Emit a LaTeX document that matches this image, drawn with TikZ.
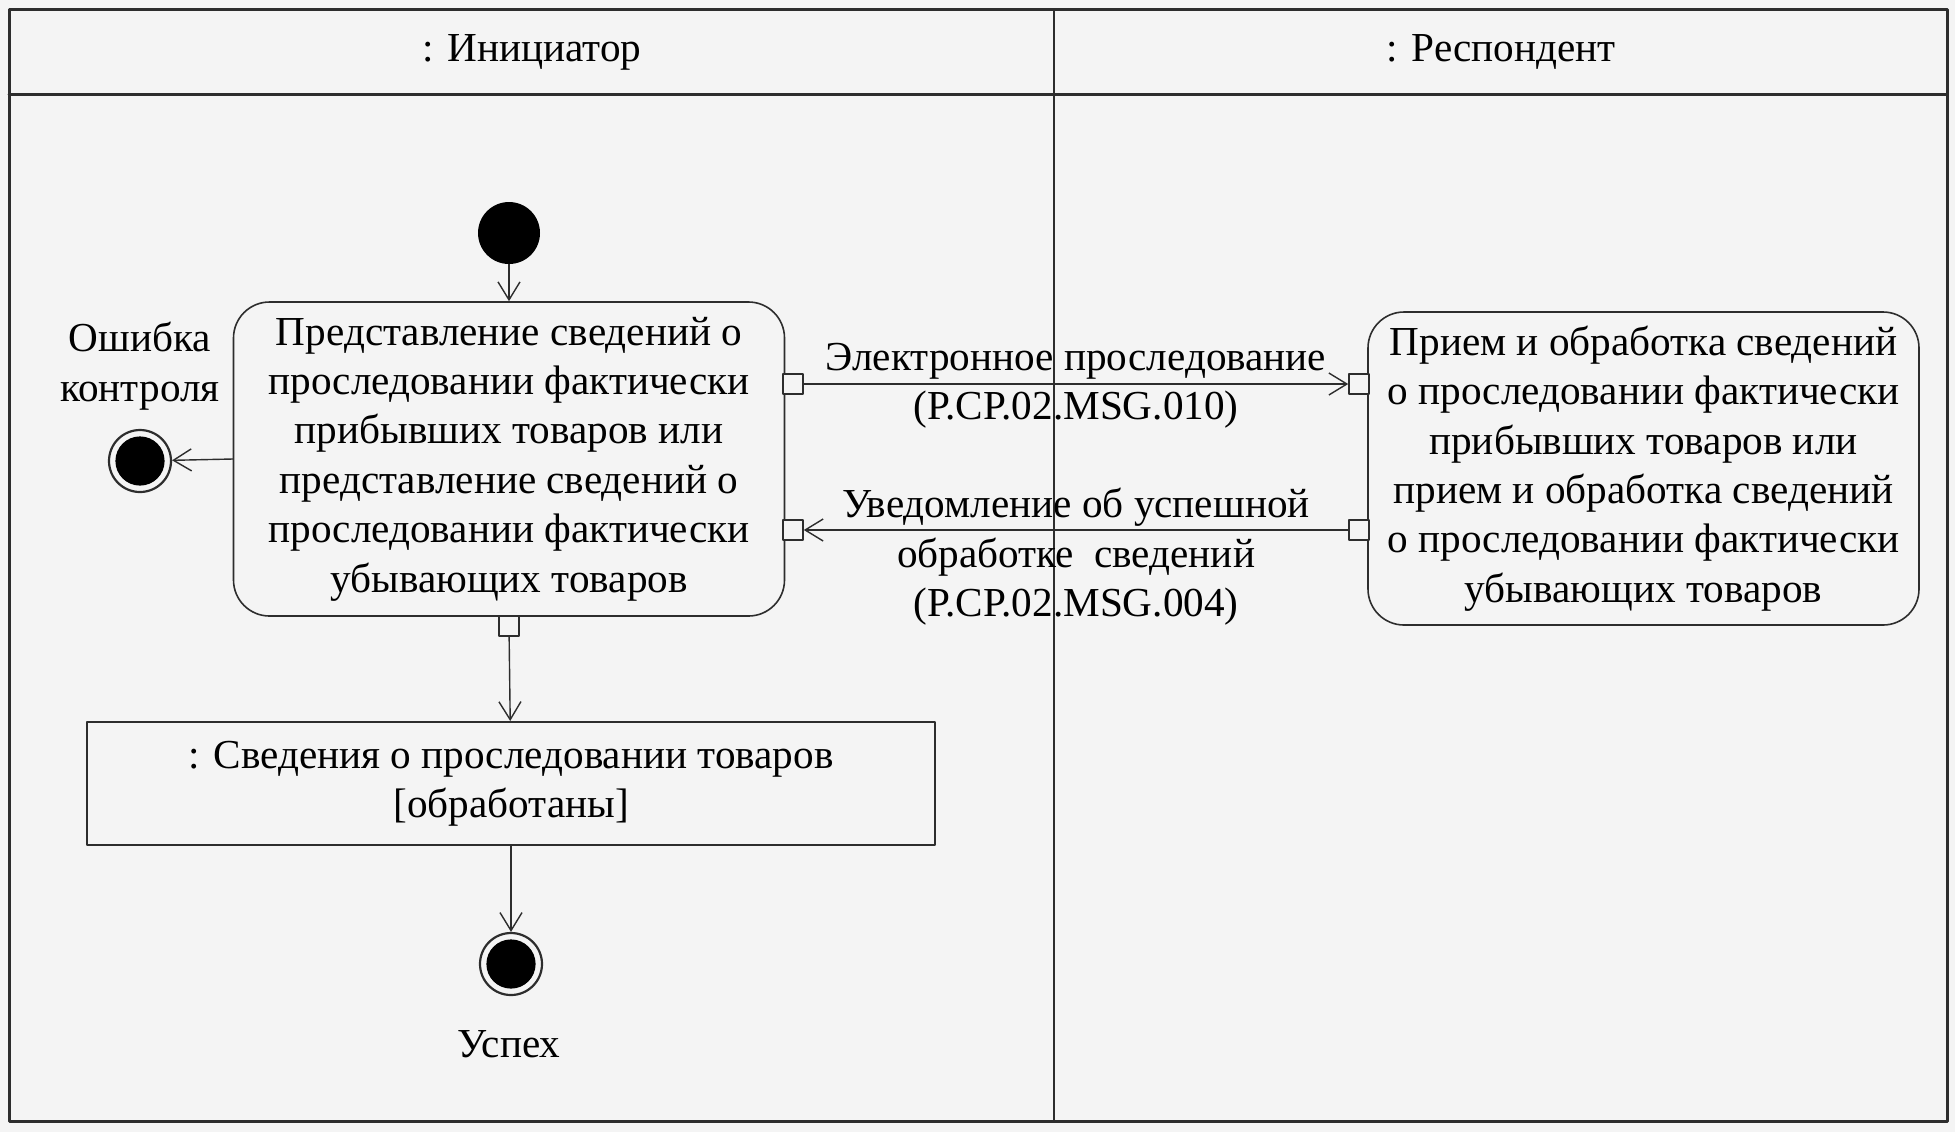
\documentclass[tikz,border=0pt]{standalone}
\usepackage{fontspec}
\setmainfont{Liberation Serif}
\usetikzlibrary{arrows.meta,positioning}
\definecolor{bg}{RGB}{244,244,244}
\definecolor{ink}{RGB}{45,45,45}
\begin{document}
\begin{tikzpicture}[x=0.5pt,y=-0.5pt,font=\fontsize{20.6}{24.7}\selectfont,line join=round,line cap=round,
  >={Straight Barb[length=9pt,width=11pt]},
  act/.style={draw=ink,line width=0.8pt,rounded corners=18pt,align=center,inner sep=0pt,fill=bg},
  obj/.style={draw=ink,line width=1pt,align=center,inner sep=0pt,minimum width=424pt,minimum height=61.5pt},
  pinbox/.style={draw=ink,line width=0.8pt,fill=bg,minimum size=10pt,inner sep=0pt},
  start/.style={circle,fill=black,minimum size=31pt,inner sep=0pt},
  stop/.style={circle,draw=ink,line width=1.1pt,minimum size=31pt,inner sep=0pt,
    path picture={\fill[black] (path picture bounding box.center) circle(12.3pt);}},
  flow/.style={draw=ink,line width=0.7pt,->}]
\fill[bg] (0,0) rectangle (1955,1132);
\draw[ink,line width=1.5pt] (9,9) rectangle (1947,1121) (9,94) -- (1947,94);
\draw[ink,line width=0.8pt] (1054,9) -- (1054,1121);
\node (ini) at (532,52) {: Инициатор};
\node (resp) at (1501,52) {: Респондент};
\node[start] (st) at (509,233) {};
\node[act,minimum width=275.5pt,minimum height=157pt] (a1) at (509,459)
  {Представление сведений о\\проследовании фактически\\прибывших товаров или\\представление сведений о\\проследовании фактически\\убывающих товаров};
\node[act,minimum width=275.5pt,minimum height=156.5pt] (a2) at (1643.5,468.5)
  {Прием и обработка сведений\\о проследовании фактически\\прибывших товаров или\\прием и обработка сведений\\о проследовании фактически\\убывающих товаров};
\node[obj] (ob) at (511,783.5) {: Сведения о проследовании товаров\\{[обработаны]}};
\node[stop] (err) at (140,461) {};
\node[stop] (ok) at (511,964) {};
\node[align=center] (errlbl) at (140,366) {Ошибка\\контроля};
\node (oklbl) at (509,1044) {Успех};
% pins
\foreach \x/\y/\t in {793/384/p1,793/530/p2,509/626/p3,1359/384/q1,1359/530/q2}
\node[pinbox] (\t) at (\x,\y) {};
\draw[flow] (st) -- (a1);
\draw[flow] (a1.west) -- (err);
\draw[flow] (p1) -- node[align=center,yshift=-1pt]{Электронное проследование\\(P.CP.02.MSG.010)} (q1);
\draw[flow] (q2) -- node[align=center,yshift=-13.5pt]{Уведомление об успешной\\обработке~ сведений\\(P.CP.02.MSG.004)} (p2);
\draw[flow] (p3) -- (ob);
\draw[flow] (ob) -- (ok);
\end{tikzpicture}
\end{document}
